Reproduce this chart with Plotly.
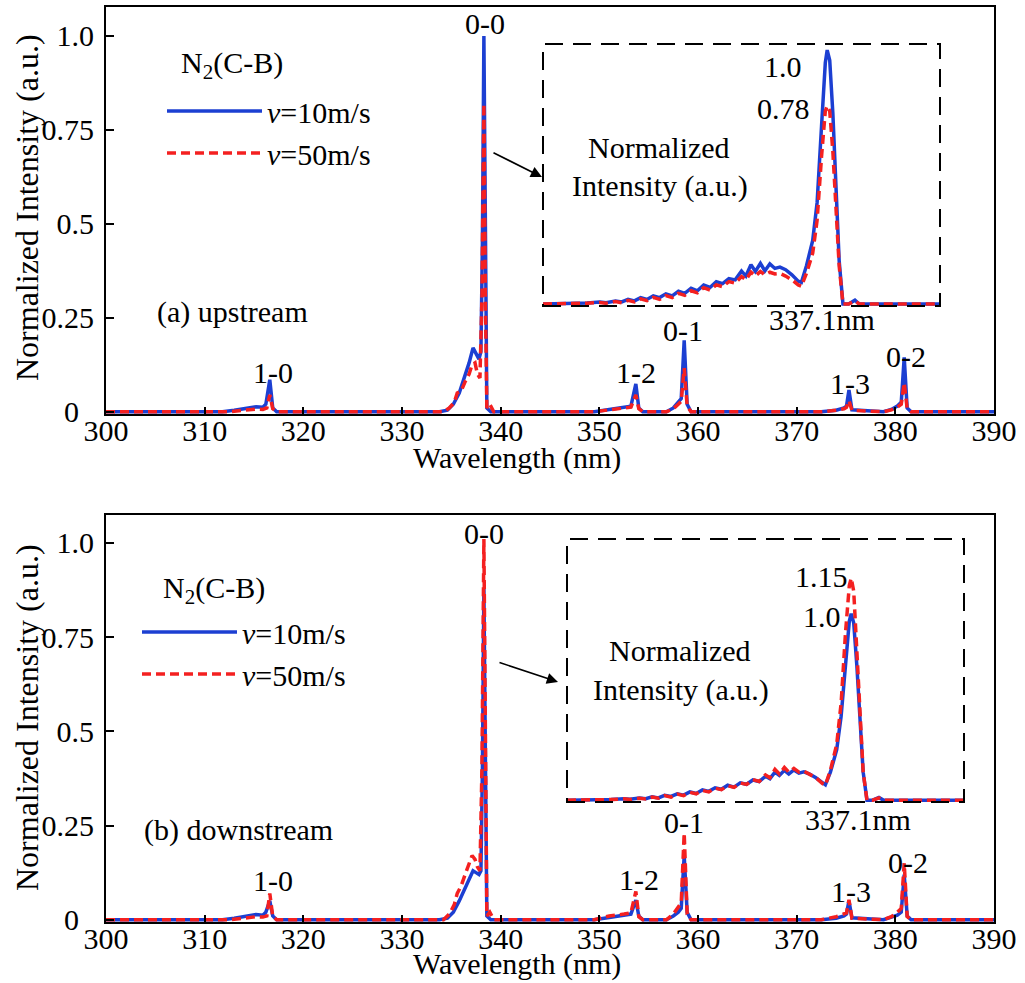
import plotly.graph_objects as go

W, H = 1025, 983
FONT = "Liberation Serif, Times New Roman, serif"
BLUE = "#1c3fd2"
RED = "#f42020"


def px(x):
    return x / W


def py(y):
    return 1 - y / H


# ---------------- data: panel (a) upstream, full spectrum ----------------
a_wl_blue = [300, 311.8, 313.0, 314.2, 315.2, 315.9, 316.2, 316.6, 316.9, 317.3,
             333.8, 334.6, 335.2, 335.8, 336.3, 336.8, 337.2, 337.5, 337.8, 338.0, 338.15, 338.3, 338.45, 338.6, 339.0,
             349.5, 351.0, 352.5, 353.2, 353.7, 354.0, 354.4,
             356.8, 357.5, 358.0, 358.3, 358.6, 358.9, 359.3,
             372.5, 374.0, 374.8, 375.05, 375.3, 375.6,
             378.8, 379.6, 380.2, 380.6, 380.9, 381.2, 381.6, 390]
a_int_blue = [0, 0, 0.004, 0.01, 0.013, 0.012, 0.02, 0.085, 0.01, 0,
              0, 0.004, 0.02, 0.05, 0.09, 0.13, 0.17, 0.155, 0.14, 0.16, 0.45, 1.0, 0.35, 0.01, 0,
              0, 0.006, 0.012, 0.015, 0.074, 0.01, 0,
              0, 0.01, 0.025, 0.035, 0.19, 0.02, 0,
              0, 0.004, 0.01, 0.015, 0.058, 0.005,
              0, 0.006, 0.015, 0.025, 0.145, 0.01, 0, 0]
a_wl_red = [300, 312.5, 314.0, 315.2, 315.9, 316.3, 316.6, 316.9, 317.3,
            334.2, 334.8, 335.3, 335.6, 336.0, 336.4, 336.8, 337.1, 337.4, 337.65, 337.9, 338.1, 338.3, 338.45, 338.6, 338.9, 339.3,
            349.5, 351.0, 352.5, 353.2, 353.7, 354.0, 354.4,
            356.8, 357.5, 358.0, 358.3, 358.6, 358.9, 359.3,
            372.5, 374.0, 374.8, 375.05, 375.3, 375.6,
            378.8, 379.6, 380.2, 380.6, 380.9, 381.2, 381.6, 390]
a_int_red = [0, 0, 0.004, 0.007, 0.006, 0.01, 0.045, 0.008, 0,
             0, 0.01, 0.025, 0.05, 0.055, 0.08, 0.1, 0.125, 0.13, 0.1, 0.09, 0.3, 0.82, 0.3, 0.01, 0.02, 0,
             0, 0.006, 0.01, 0.012, 0.045, 0.008, 0,
             0, 0.008, 0.02, 0.028, 0.116, 0.015, 0,
             0, 0.004, 0.008, 0.012, 0.03, 0.004,
             0, 0.005, 0.012, 0.02, 0.077, 0.008, 0, 0]

# ---------------- data: panel (b) downstream, full spectrum ----------------
b_wl_blue = list(a_wl_blue)
b_int_blue = [0, 0, 0.004, 0.01, 0.014, 0.012, 0.02, 0.05, 0.01, 0,
              0, 0.004, 0.02, 0.05, 0.08, 0.11, 0.13, 0.125, 0.12, 0.13, 0.4, 0.88, 0.3, 0.01, 0,
              0, 0.006, 0.012, 0.015, 0.052, 0.01, 0,
              0, 0.01, 0.02, 0.03, 0.17, 0.02, 0,
              0, 0.004, 0.01, 0.015, 0.05, 0.005,
              0, 0.006, 0.012, 0.02, 0.12, 0.01, 0, 0]
b_wl_red = list(a_wl_red)
b_int_red = [0, 0, 0.004, 0.008, 0.007, 0.01, 0.07, 0.008, 0,
             0, 0.015, 0.04, 0.07, 0.09, 0.12, 0.15, 0.17, 0.16, 0.14, 0.13, 0.4, 1.01, 0.35, 0.01, 0.02, 0,
             0, 0.01, 0.015, 0.018, 0.075, 0.008, 0,
             0, 0.015, 0.035, 0.045, 0.23, 0.015, 0,
             0, 0.008, 0.015, 0.018, 0.053, 0.004,
             0, 0.008, 0.02, 0.03, 0.15, 0.008, 0, 0]

# ---------------- data: insets (0-0 band around 337.1 nm) ----------------
inset_wl = [332.6, 333.0, 333.3, 333.5, 333.6, 333.75, 333.85, 333.95, 334.05, 334.15,
            334.25, 334.35, 334.45, 334.55, 334.65, 334.75, 334.85, 334.95, 335.05, 335.15,
            335.25, 335.35, 335.45, 335.55, 335.65, 335.75, 335.82, 335.9, 335.97, 336.05,
            336.12, 336.2, 336.28, 336.36, 336.45, 336.55, 336.65, 336.70, 336.78, 336.88,
            336.95, 337.02, 337.08, 337.11, 337.15, 337.2, 337.25, 337.3, 337.36, 337.45,
            337.55, 337.62, 338.9]
inset_a_blue = [0, 0.002, 0.004, 0.008, 0.005, 0.012, 0.008, 0.018, 0.012, 0.025,
                0.018, 0.032, 0.025, 0.04, 0.032, 0.05, 0.042, 0.062, 0.052, 0.075,
                0.065, 0.088, 0.08, 0.1, 0.095, 0.13, 0.11, 0.155, 0.128, 0.16,
                0.13, 0.158, 0.14, 0.145, 0.135, 0.115, 0.09, 0.085, 0.15, 0.25,
                0.4, 0.7, 0.95, 1.0, 0.96, 0.75, 0.45, 0.17, 0, 0,
                0.015, 0, 0]
inset_a_red = [0, 0, 0.003, 0.006, 0.003, 0.01, 0.005, 0.014, 0.008, 0.02,
               0.013, 0.026, 0.018, 0.033, 0.025, 0.042, 0.034, 0.052, 0.044, 0.064,
               0.055, 0.075, 0.068, 0.088, 0.082, 0.108, 0.095, 0.125, 0.11, 0.128,
               0.115, 0.125, 0.118, 0.12, 0.11, 0.095, 0.075, 0.07, 0.12, 0.2,
               0.33, 0.58, 0.76, 0.78, 0.76, 0.6, 0.38, 0.15, 0, 0,
               0.012, 0, 0]
inset_b_blue = [0, 0, 0.004, 0.008, 0.005, 0.012, 0.008, 0.018, 0.012, 0.026,
                0.02, 0.034, 0.027, 0.044, 0.036, 0.055, 0.047, 0.066, 0.058, 0.08,
                0.07, 0.093, 0.085, 0.108, 0.1, 0.128, 0.115, 0.15, 0.132, 0.16,
                0.14, 0.162, 0.145, 0.152, 0.14, 0.12, 0.092, 0.082, 0.15, 0.27,
                0.45, 0.75, 0.96, 1.0, 0.95, 0.72, 0.42, 0.15, 0, 0,
                0.014, 0, 0]
inset_b_red = [0, 0, 0.003, 0.007, 0.004, 0.01, 0.006, 0.016, 0.01, 0.024,
               0.016, 0.032, 0.024, 0.042, 0.034, 0.052, 0.044, 0.064, 0.056, 0.078,
               0.068, 0.092, 0.084, 0.11, 0.1, 0.135, 0.12, 0.165, 0.14, 0.175,
               0.15, 0.17, 0.15, 0.155, 0.14, 0.12, 0.09, 0.08, 0.16, 0.3,
               0.52, 0.9, 1.15, 1.19, 1.12, 0.8, 0.45, 0.15, 0, 0,
               0.012, 0, 0]

x_ticks = [300, 310, 320, 330, 340, 350, 360, 370, 380, 390]
y_ticks = [0, 0.25, 0.5, 0.75, 1.0]
y_ticktext = ["0\u00a0\u00a0", "0.25", "0.5", "0.75", "1.0"]
series_names = ["<i>v</i>=10m/s", "<i>v</i>=50m/s"]

fig = go.Figure()

blue_line = dict(color=BLUE, width=3.5)
red_line = dict(color=RED, width=3.5, dash="9px,5px")

# panel (a)
fig.add_trace(go.Scatter(x=a_wl_blue, y=a_int_blue, mode="lines", line=blue_line,
                         name=series_names[0], xaxis="x", yaxis="y", legend="legend"))
fig.add_trace(go.Scatter(x=a_wl_red, y=a_int_red, mode="lines", line=red_line,
                         name=series_names[1], xaxis="x", yaxis="y", legend="legend"))
# panel (b)
fig.add_trace(go.Scatter(x=b_wl_blue, y=b_int_blue, mode="lines", line=blue_line,
                         name=series_names[0], xaxis="x2", yaxis="y2", legend="legend2"))
fig.add_trace(go.Scatter(x=b_wl_red, y=b_int_red, mode="lines", line=red_line,
                         name=series_names[1], xaxis="x2", yaxis="y2", legend="legend2"))
# insets
fig.add_trace(go.Scatter(x=inset_wl, y=inset_a_blue, mode="lines", line=blue_line,
                         showlegend=False, xaxis="x3", yaxis="y3"))
fig.add_trace(go.Scatter(x=inset_wl, y=inset_a_red, mode="lines", line=red_line,
                         showlegend=False, xaxis="x3", yaxis="y3"))
fig.add_trace(go.Scatter(x=inset_wl, y=inset_b_blue, mode="lines", line=blue_line,
                         showlegend=False, xaxis="x4", yaxis="y4"))
fig.add_trace(go.Scatter(x=inset_wl, y=inset_b_red, mode="lines", line=red_line,
                         showlegend=False, xaxis="x4", yaxis="y4"))

tickfont = dict(family=FONT, size=30, color="black")
common_x = dict(range=[300, 390], tickvals=x_ticks, ticks="inside", ticklen=7, tickwidth=2,
                tickcolor="black", showline=True, linewidth=2, linecolor="black", mirror=True,
                showgrid=False, zeroline=False, tickfont=tickfont, ticklabelstandoff=-11,
                automargin=False)
common_y = dict(tickvals=y_ticks, ticktext=y_ticktext, ticks="inside", ticklen=8, tickwidth=2,
                tickcolor="black", showline=True, linewidth=2, linecolor="black", mirror=True,
                showgrid=False, zeroline=False, tickfont=tickfont, ticklabelstandoff=4,
                automargin=False)
hidden = dict(visible=False, showgrid=False, zeroline=False, automargin=False)

legend_common = dict(bgcolor="rgba(0,0,0,0)", borderwidth=0, itemwidth=95,
                     font=dict(family=FONT, size=30, color="black"),
                     xanchor="left", yanchor="top", tracegroupgap=0, itemclick=False)

fig.update_layout(
    template="none",
    width=W, height=H, margin=dict(l=0, r=0, t=0, b=0, pad=0, autoexpand=False),
    paper_bgcolor="white", plot_bgcolor="white",
    font=dict(family=FONT, size=30, color="black"),
    xaxis=dict(domain=[px(106), px(994)], anchor="y", **common_x),
    yaxis=dict(domain=[py(414), py(7)], anchor="x", range=[-0.006, 1.077], **common_y),
    xaxis2=dict(domain=[px(106), px(994)], anchor="y2", **common_x),
    yaxis2=dict(domain=[py(922), py(515)], anchor="x2", range=[-0.006, 1.074], **common_y),
    xaxis3=dict(domain=[px(543), px(940)], anchor="y3", range=[332.6, 338.9], **hidden),
    yaxis3=dict(domain=[py(306), py(44)], anchor="x3", range=[-0.008, 1.024], **hidden),
    xaxis4=dict(domain=[px(567), px(964)], anchor="y4", range=[332.6, 338.9], **hidden),
    yaxis4=dict(domain=[py(802), py(539)], anchor="x4", range=[-0.01, 1.40], **hidden),
    legend=dict(x=px(162), y=py(85), **legend_common),
    legend2=dict(x=px(137), y=py(606), **legend_common),
    showlegend=True,
)

# dashed inset boxes
for ax in ["3", "4"]:
    fig.add_shape(type="rect", xref=f"x{ax} domain", yref=f"y{ax} domain",
                  x0=0, x1=1, y0=0, y1=1, line=dict(color="black", width=2, dash="18px,10px"))


def label(text, x, y, xanchor="center", size=30):
    fig.add_annotation(text=text, x=px(x), y=py(y), xref="paper", yref="paper",
                       xanchor=xanchor, yanchor="middle", showarrow=False,
                       font=dict(family=FONT, size=size, color="black"))


# axis titles
for yc in [208, 718]:
    fig.add_annotation(text="Normalized Intensity (a.u.)", x=px(27), y=py(yc), xref="paper", yref="paper",
                       textangle=-90, showarrow=False, xanchor="center", yanchor="middle",
                       font=dict(family=FONT, size=32, color="black"))
label("Wavelength (nm)", 517, 458)
label("Wavelength (nm)", 517, 964)

# panel (a) texts
label("N<sub>2</sub>(C-B)", 232, 65)
label("(a) upstream", 155, 312, xanchor="left")
label("1-0", 273, 372)
label("0-0", 485, 24)
label("1-2", 636, 372)
label("0-1", 683, 330)
label("1-3", 850, 383)
label("0-2", 906, 356)
label("1.0", 783, 67)
label("0.78", 783, 109)
label("Normalized", 659, 148)
label("Intensity (a.u.)", 660, 186)
label("337.1nm", 822, 319)

# panel (b) texts
label("N<sub>2</sub>(C-B)", 214, 590)
label("(b) downstream", 142, 830, xanchor="left")
label("1-0", 273, 880)
label("0-0", 484, 533)
label("1-2", 639, 879)
label("0-1", 684, 822)
label("1-3", 851, 891)
label("0-2", 908, 862)
label("1.15", 821, 576)
label("1.0", 822, 616)
label("Normalized", 680, 650)
label("Intensity (a.u.)", 681, 690)
label("337.1nm", 858, 819)

# arrows pointing to insets
for (hx, hy, tx, ty) in [(542, 177, 492, 152), (558, 682, 498, 662)]:
    fig.add_annotation(text="", x=px(hx), y=py(hy), xref="paper", yref="paper",
                       ax=tx - hx, ay=ty - hy, axref="pixel", ayref="pixel",
                       showarrow=True, arrowhead=2, arrowsize=1.4, arrowwidth=1.6, arrowcolor="black")

fig.write_html("out.html")
